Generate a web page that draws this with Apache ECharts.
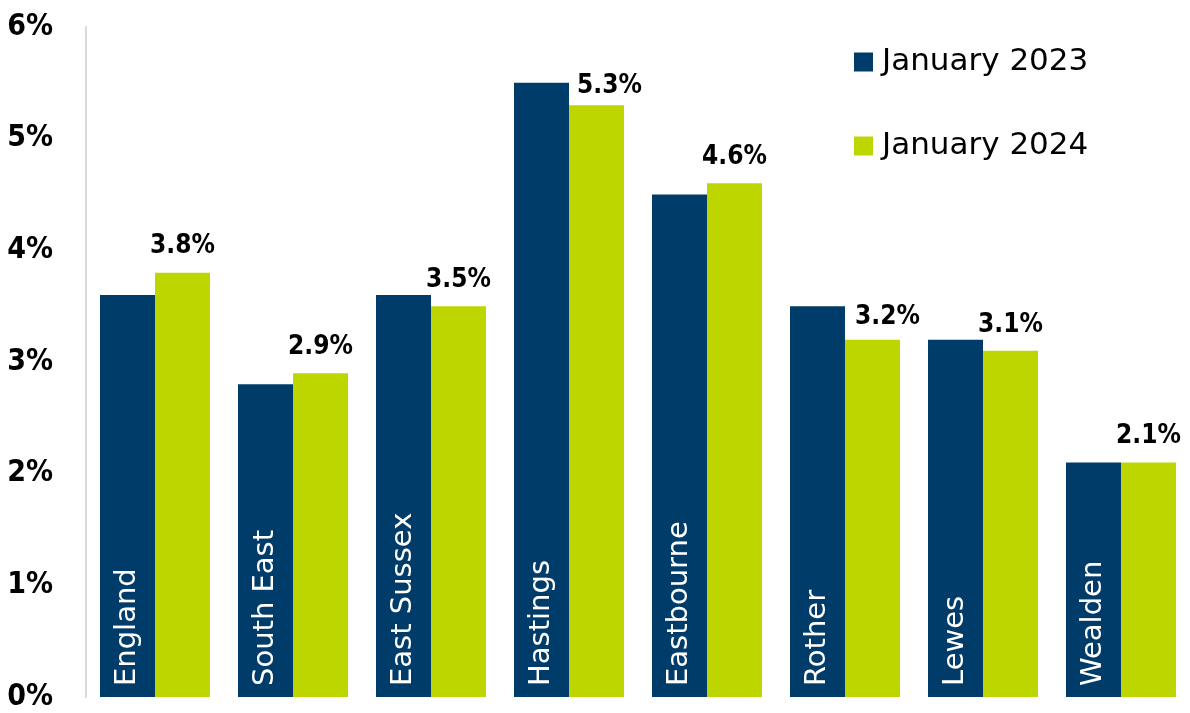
<!DOCTYPE html>
<html>
<head>
<meta charset="utf-8">
<script src="https://cdn.jsdelivr.net/npm/echarts@6/dist/echarts.min.js"></script>
<style>
  html, body { margin: 0; padding: 0; background: #fff; }
  #chart { width: 1190px; height: 713px; }
</style>
</head>
<body>
<div id="chart"></div>
<script>
const areas = ['England', 'South East', 'East Sussex', 'Hastings', 'Eastbourne', 'Rother', 'Lewes', 'Wealden'];
const jan2023 = [3.6, 2.8, 3.6, 5.5, 4.5, 3.5, 3.2, 2.1];
const jan2024 = [3.8, 2.9, 3.5, 5.3, 4.6, 3.2, 3.1, 2.1];
const seriesNames = ['January 2023', 'January 2024'];

const COND = "'DejaVu Sans Condensed', 'DejaVu Sans', sans-serif";
const WIDE = "'DejaVu Sans', sans-serif";
const NAVY = '#003c69';
const LIME = '#bed600';

const chart = echarts.init(document.getElementById('chart'));

// labels nudged right of a taller neighbour, as in the original
const labelShift = { 'Hastings': [13, 7], 'Rother': [15, 4] };

const option = {
  animation: false,
  textStyle: { fontFamily: WIDE },
  grid: { left: 86, width: 1104, top: 27, bottom: 16, containLabel: false },
  legend: {
    orient: 'vertical',
    left: 854,
    top: 45,
    padding: 0,
    itemWidth: 19,
    itemHeight: 19,
    itemGap: 50,
    icon: 'rect',
    textStyle: { fontFamily: WIDE, fontSize: 31, color: '#000', lineHeight: 34, padding: [0, 0, 0, 4] },
    data: seriesNames
  },
  xAxis: {
    type: 'category',
    data: areas,
    axisLine: { show: false },
    axisTick: { show: false },
    axisLabel: { show: false }
  },
  yAxis: {
    type: 'value',
    min: 0,
    max: 6,
    interval: 1,
    axisLine: { show: true, lineStyle: { color: '#d9d9d9', width: 2 } },
    axisTick: { show: false },
    splitLine: { show: false },
    axisLabel: {
      formatter: '{value}%',
      fontFamily: COND,
      fontSize: 30,
      fontWeight: 'bold',
      color: '#000',
      margin: 33
    }
  },
  series: [
    {
      name: seriesNames[0],
      type: 'bar',
      data: jan2023,
      barWidth: 55,
      barGap: '0%',
      itemStyle: { color: NAVY },
      label: {
        show: true,
        position: 'insideBottom',
        distance: 11,
        rotate: 90,
        align: 'left',
        verticalAlign: 'middle',
        formatter: p => p.name,
        color: '#fff',
        fontFamily: WIDE,
        fontSize: 29
      }
    },
    {
      name: seriesNames[1],
      type: 'bar',
      data: jan2024.map((v, i) => ({
        value: v,
        label: labelShift[areas[i]] ? { offset: labelShift[areas[i]] } : undefined
      })),
      barWidth: 55,
      itemStyle: { color: LIME },
      label: {
        show: true,
        position: 'top',
        distance: 13,
        formatter: p => p.value.toFixed(1) + '%',
        color: '#000',
        fontFamily: COND,
        fontSize: 26,
        fontWeight: 'bold'
      }
    }
  ]
};

chart.setOption(option);
</script>
</body>
</html>
